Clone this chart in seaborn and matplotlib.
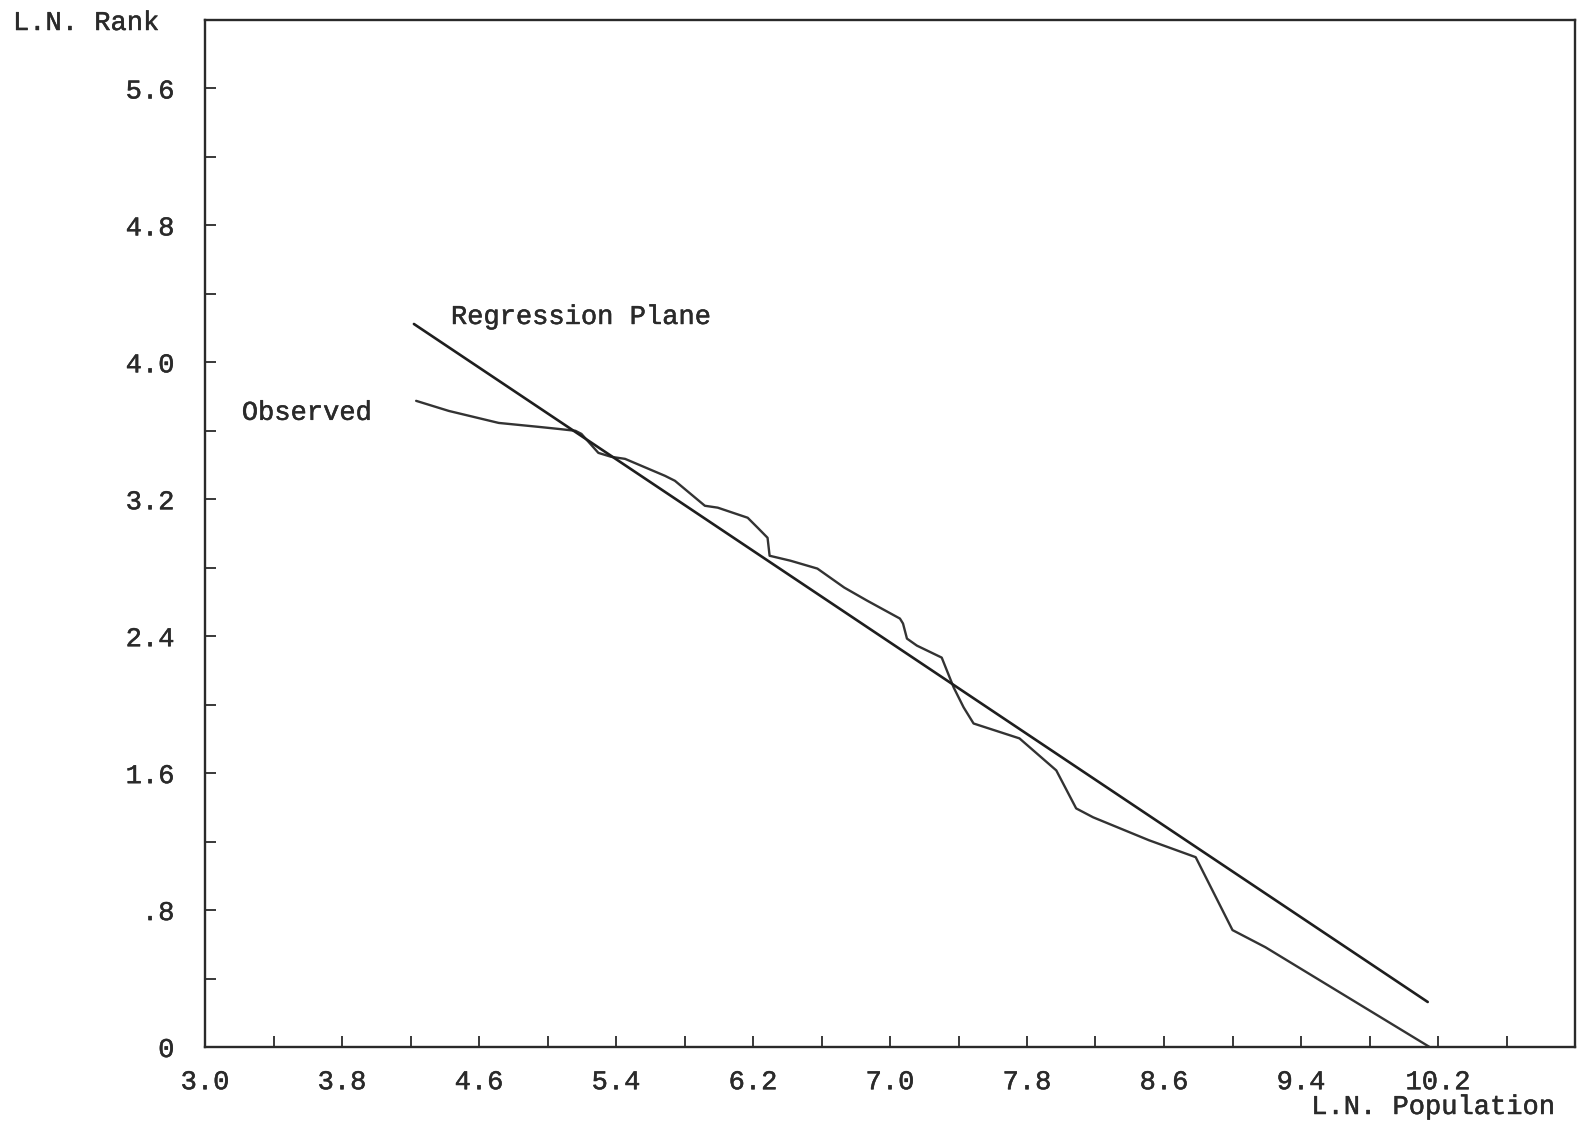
import numpy as np
import pandas as pd
import matplotlib
matplotlib.use("Agg")
import matplotlib.pyplot as plt
import matplotlib.patheffects as pe
import seaborn as sns
from matplotlib.ticker import MultipleLocator, FixedLocator, FixedFormatter

# ---- data ----
obs_x = [4.233, 4.424, 4.715, 4.948, 5.064, 5.163, 5.198, 5.297, 5.372, 5.453,
         5.686, 5.744, 5.919, 5.994, 6.169, 6.227, 6.285, 6.297, 6.419, 6.576,
         6.733, 6.866, 7.058, 7.076, 7.099, 7.157, 7.302, 7.372, 7.430, 7.488,
         7.756, 7.971, 8.087, 8.186, 8.512, 8.785, 9.000, 9.192, 10.151]
obs_y = [3.775, 3.716, 3.646, 3.623, 3.611, 3.600, 3.582, 3.471, 3.448, 3.436,
         3.337, 3.308, 3.162, 3.151, 3.092, 3.034, 2.975, 2.870, 2.841, 2.795,
         2.684, 2.608, 2.503, 2.474, 2.386, 2.345, 2.275, 2.100, 1.984, 1.890,
         1.803, 1.616, 1.394, 1.342, 1.208, 1.109, 0.683, 0.583, 0.000]
reg_x = [4.22, 10.14]
reg_y = [4.224, 0.263]

x_tick_labels = ["3.0", "3.8", "4.6", "5.4", "6.2", "7.0", "7.8", "8.6", "9.4", "10.2"]
y_tick_labels = ["0", ".8", "1.6", "2.4", "3.2", "4.0", "4.8", "5.6"]
x_label = "L.N. Population"
y_label = "L.N. Rank"
reg_label = "Regression Plane"
obs_label = "Observed"

sns.set_theme(style="ticks")
plt.rcParams['font.family'] = ['Liberation Mono', 'DejaVu Sans Mono']
FS = 19.5
ink = "#2a2a2a"
thick = [pe.withStroke(linewidth=0.35, foreground=ink)]

fig = plt.figure(figsize=(15.83, 11.26), dpi=100)
ax = fig.add_axes([205/1583, 1-1047/1126, (1575-205)/1583, (1047-20)/1126])

obs_df = pd.DataFrame({"x": obs_x, "y": obs_y})
reg_df = pd.DataFrame({"x": reg_x, "y": reg_y})
sns.lineplot(data=obs_df, x="x", y="y", ax=ax, color="#333333", linewidth=1.7,
             sort=False, estimator=None)
sns.lineplot(data=reg_df, x="x", y="y", ax=ax, color="#1e1e1e", linewidth=1.9,
             sort=False, estimator=None)

ax.set_xlim(3.0, 11.0)
ax.set_ylim(0, 6.0)
ax.set_xlabel("")
ax.set_ylabel("")

xt = [float(s) for s in x_tick_labels]
yt = [float(s) for s in y_tick_labels]
ax.xaxis.set_major_locator(FixedLocator(xt))
ax.xaxis.set_major_formatter(FixedFormatter(x_tick_labels))
ax.yaxis.set_major_locator(FixedLocator(yt))
ax.yaxis.set_major_formatter(FixedFormatter(y_tick_labels))
ax.xaxis.set_minor_locator(MultipleLocator(0.4, offset=0.2))
ax.yaxis.set_minor_locator(MultipleLocator(0.4))

ax.tick_params(axis="both", which="both", direction="in", length=8, width=1.3,
               color=ink, labelcolor=ink, labelsize=FS)
ax.tick_params(axis="x", which="major", pad=16)
ax.tick_params(axis="y", which="major", pad=22)
for lab in ax.get_xticklabels() + ax.get_yticklabels():
    lab.set_path_effects(thick)

for s in ax.spines.values():
    s.set_visible(True)
    s.set_linewidth(1.7)
    s.set_color(ink)

ax.text(4.436, 4.265, reg_label, fontsize=FS, color=ink, va="center", ha="left",
        path_effects=thick)
ax.text(3.215, 3.705, obs_label, fontsize=FS, color=ink, va="center", ha="left",
        path_effects=thick)

fig.text(13/1583, 1-23/1126, y_label, fontsize=FS, color=ink, va="center", ha="left",
         path_effects=thick)
fig.text(1555/1583, 1-1107/1126, x_label, fontsize=FS, color=ink, va="center", ha="right",
         path_effects=thick)

fig.savefig("out.png", dpi=100, facecolor="white")
